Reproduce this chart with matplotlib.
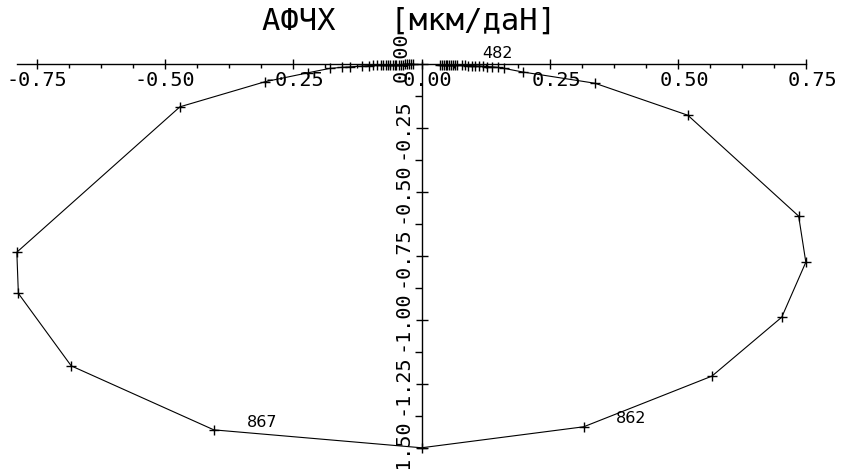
import numpy as np
import matplotlib
matplotlib.use("Agg")
import matplotlib.pyplot as plt

# Nyquist (АФЧХ) curve, real and imaginary parts, in path order
re = [0.035, 0.039, 0.043, 0.047, 0.050, 0.054, 0.058, 0.062, 0.066, 0.070,
      0.079, 0.085, 0.091, 0.098, 0.105, 0.112, 0.120, 0.128, 0.138, 0.148,
      0.161, 0.197, 0.338, 0.519, 0.735, 0.749, 0.702, 0.566, 0.316, 0.000,
      -0.405, -0.683, -0.786, -0.789, -0.471, -0.305, -0.221, -0.179, -0.156, -0.140,
      -0.117, -0.103, -0.095, -0.087, -0.080, -0.076, -0.070, -0.066, -0.061, -0.056,
      -0.052, -0.049, -0.045, -0.041, -0.037, -0.033, -0.029, -0.025, -0.021, -0.017]
im = [-0.001, -0.001, -0.001, -0.002, -0.002, -0.002, -0.002, -0.003, -0.003, -0.003,
      -0.004, -0.004, -0.005, -0.005, -0.006, -0.007, -0.008, -0.009, -0.010, -0.012,
      -0.016, -0.030, -0.074, -0.199, -0.593, -0.773, -0.988, -1.218, -1.416, -1.498,
      -1.428, -1.178, -0.895, -0.734, -0.166, -0.068, -0.033, -0.016, -0.012, -0.010,
      -0.007, -0.005, -0.004, -0.004, -0.003, -0.003, -0.002, -0.002, -0.002, -0.001,
      -0.001, -0.001, -0.001, -0.001, -0.001, 0.000, 0.000, 0.000, 0.000, 0.000]

# frequency annotations
freq_labels = ["482", "862", "867"]
freq_x = [0.118, 0.378, -0.340]
freq_y = [0.013, -1.385, -1.399]

x_ticks = [-0.75, -0.50, -0.25, 0.00, 0.25, 0.50, 0.75]
x_ticklabels = ["-0.75", "-0.50", "-0.25", " 0.00", " 0.25", " 0.50", " 0.75"]
y_ticks = [0.00, -0.25, -0.50, -0.75, -1.00, -1.25, -1.50]
y_ticklabels = [" 0.00", "-0.25", "-0.50", "-0.75", "-1.00", "-1.25", "-1.50"]

title = "АФЧХ   [мкм/даН]"

mono = "DejaVu Sans Mono"

fig = plt.figure(figsize=(8.46, 4.69), dpi=100)
ax = fig.add_axes([0, 0, 1, 1])
ax.set_xlim(-0.8218, 0.8273)
ax.set_ylim(-1.5809, 0.2512)
ax.patch.set_alpha(0)

ax.plot(re, im, color="black", lw=0.8, marker="+", ms=7, mew=1.0, zorder=3)

for t, x, y in zip(freq_labels, freq_x, freq_y):
    ax.text(x, y, t, fontsize=11.5, family="DejaVu Sans", ha="left",
            va="bottom" if y > 0 else "center", color="black")

for s in ["top", "right"]:
    ax.spines[s].set_visible(False)
ax.spines["bottom"].set_position(("data", 0))
ax.spines["left"].set_position(("data", 0))
ax.spines["bottom"].set_bounds(min(re), max(re))
ax.spines["left"].set_bounds(min(im), 0.01)
for s in ["bottom", "left"]:
    ax.spines[s].set_linewidth(1.0)

ax.set_xticks(x_ticks)
ax.set_xticklabels(x_ticklabels)
ax.set_xticks(np.arange(-0.75, 0.76, 0.0625), minor=True)
ax.set_yticks(y_ticks)
ax.set_yticklabels(y_ticklabels)
ax.set_yticks(np.arange(-1.5, 0.01, 0.125), minor=True)

ax.tick_params(axis="x", which="major", direction="inout", length=7, width=1,
               pad=1, labelsize=14.5)
ax.tick_params(axis="x", which="minor", direction="out", length=3, width=1)
ax.tick_params(axis="y", which="major", direction="inout", length=8, width=1,
               pad=3, labelsize=14.5)
ax.tick_params(axis="y", which="minor", direction="out", length=5, width=1)

for lab in ax.get_xticklabels():
    lab.set_family(mono)
for lab in ax.get_yticklabels():
    lab.set_family(mono)
    lab.set_rotation(90)
    lab.set_va("center")

fig.text(0.4835, 0.955, title, ha="center", va="center", family=mono,
         fontsize=22, color="black")

fig.savefig("out.png", dpi=100, facecolor="white")
